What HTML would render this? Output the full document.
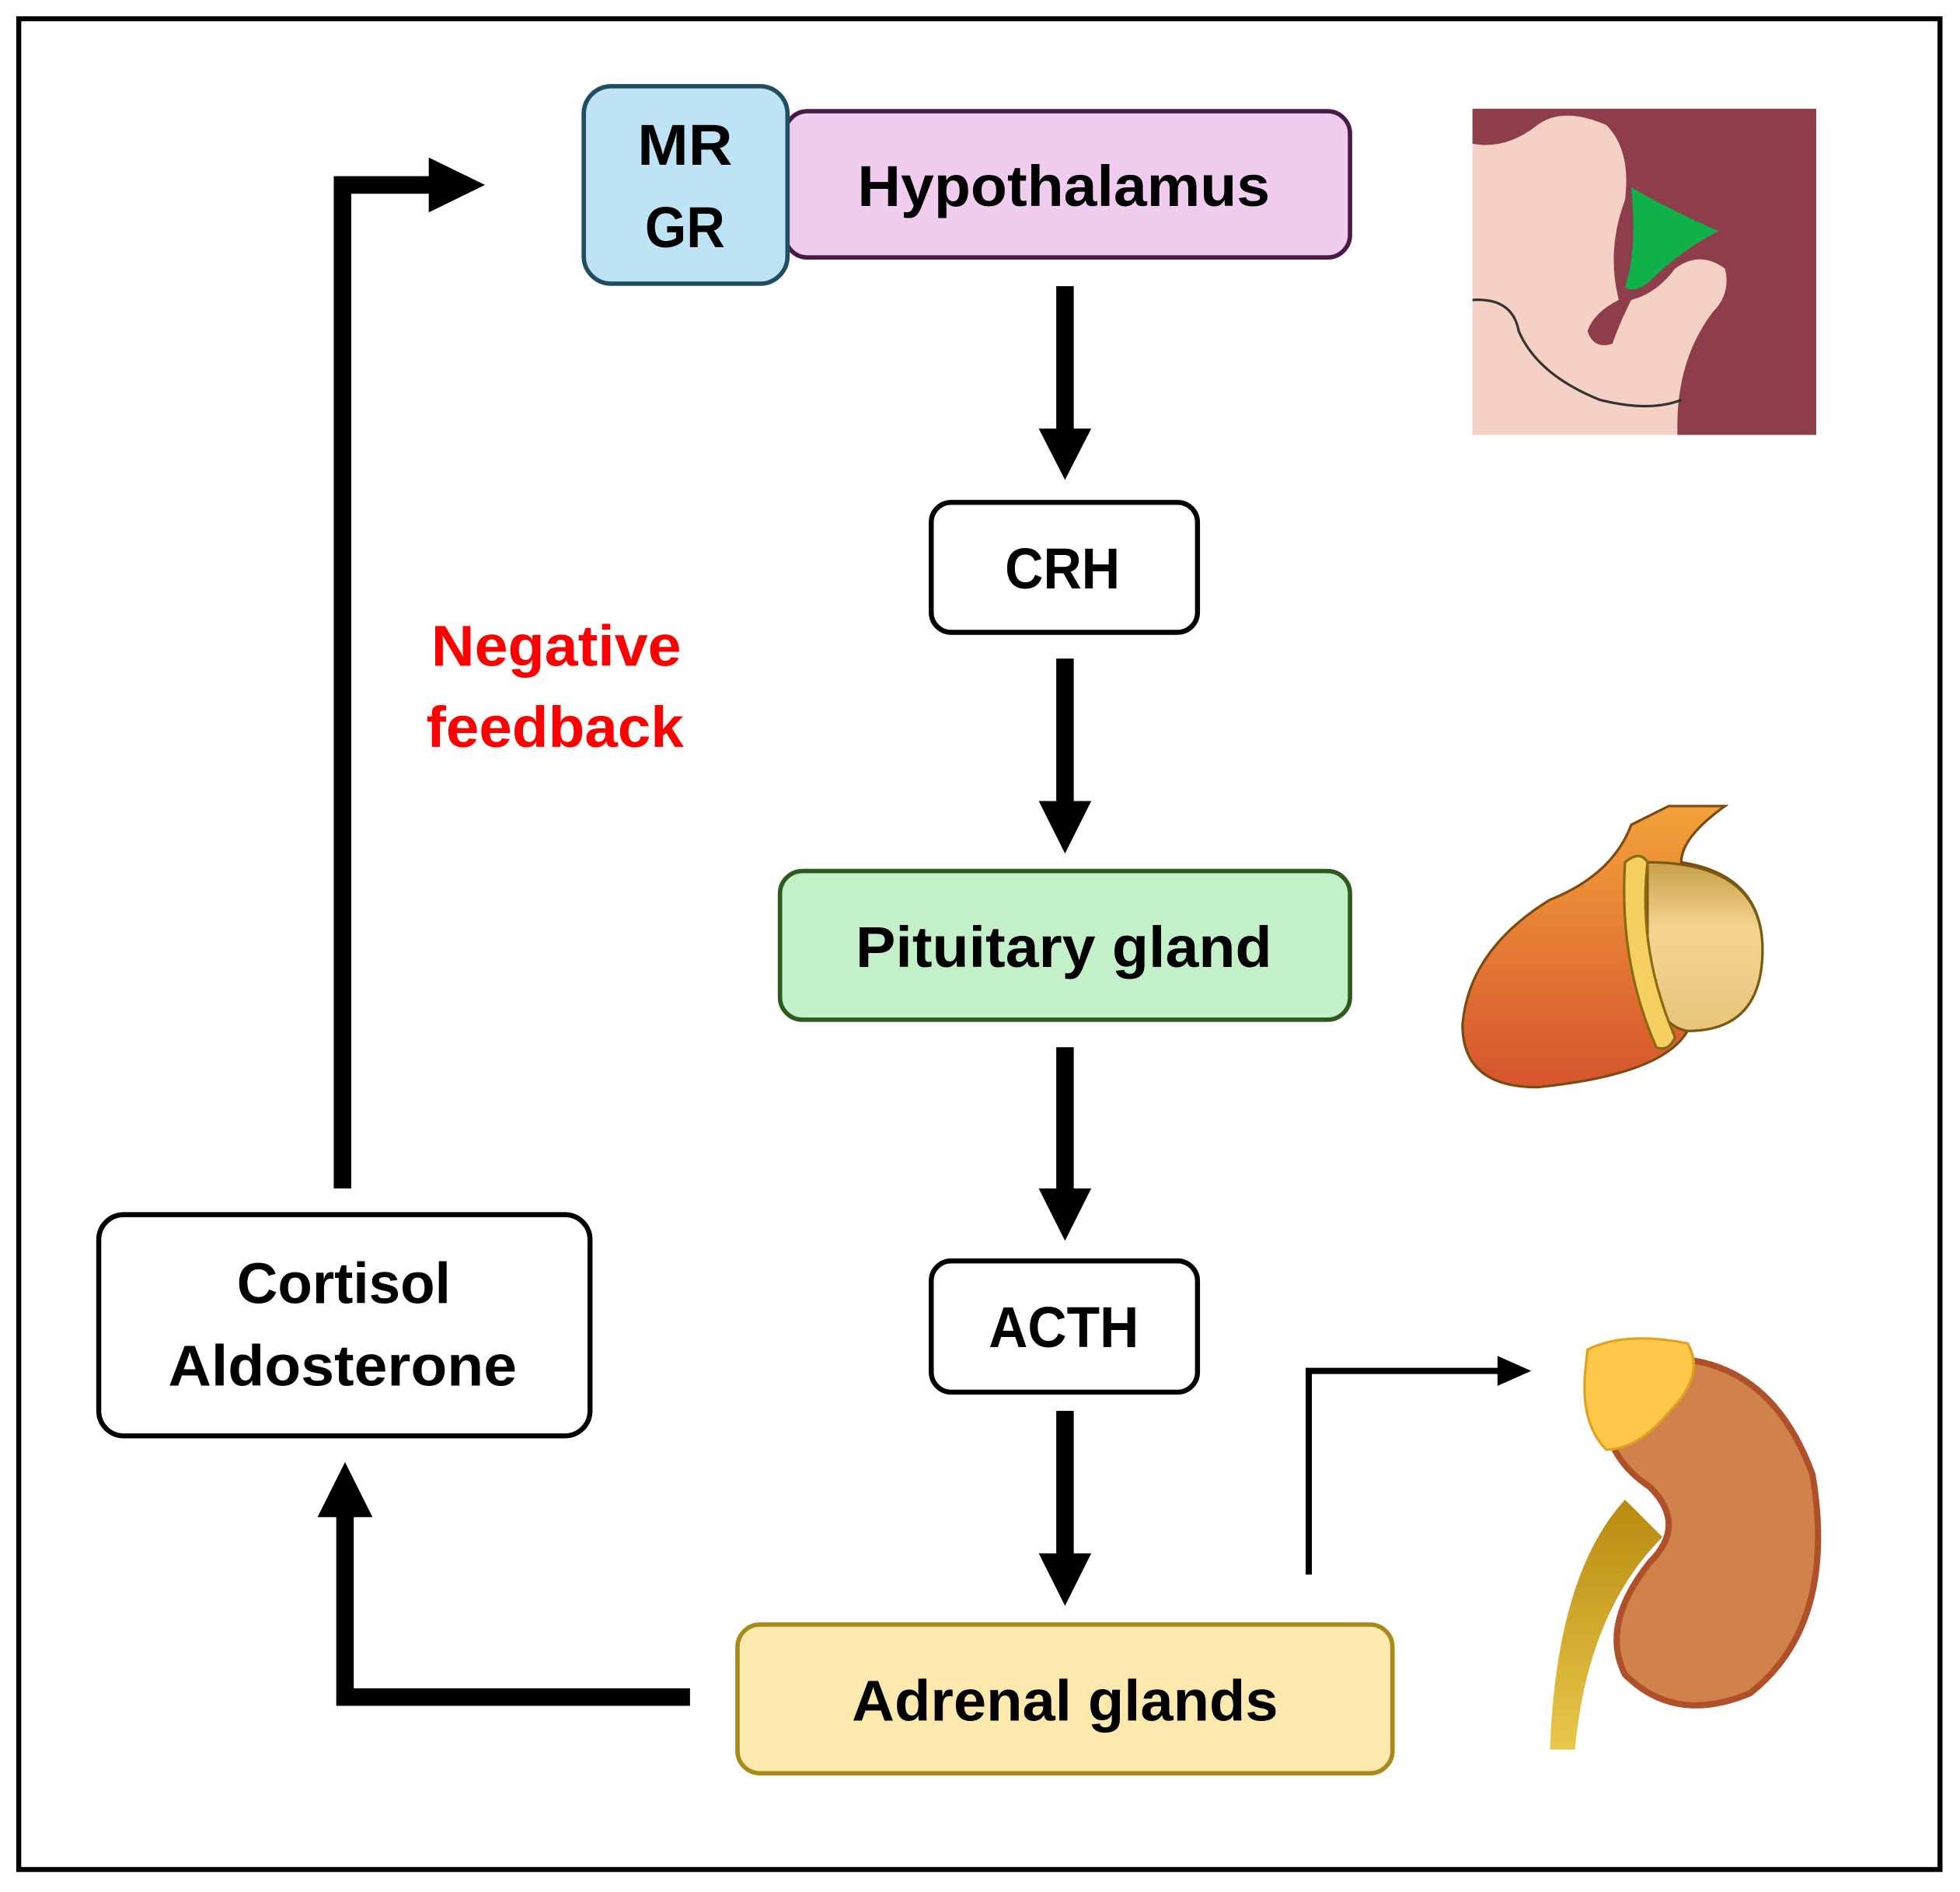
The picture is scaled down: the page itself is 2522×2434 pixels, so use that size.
<!DOCTYPE html>
<html><head><meta charset="utf-8"><style>
html,body{margin:0;padding:0;background:#fff}
svg{display:block}
text{font-family:"Liberation Sans",sans-serif;font-weight:bold;text-anchor:middle;dominant-baseline:central}
</style></head><body>
<svg width="2522" height="2434" viewBox="0 0 1568 1514" preserveAspectRatio="none" xmlns="http://www.w3.org/2000/svg">
<rect x="0" y="0" width="1568" height="1514" fill="#fff"/>
<rect x="15" y="15" width="1537" height="1481" fill="none" stroke="#000" stroke-width="4"/>

<rect x="628" y="89" width="452" height="117" rx="18" fill="#f0cdee" stroke="#4a1a48" stroke-width="3.5"/>
<text x="851" y="149" font-size="46" textLength="330" lengthAdjust="spacingAndGlyphs">Hypothalamus</text>
<rect x="467" y="69" width="163" height="158" rx="22" fill="#bde3f5" stroke="#1f4e63" stroke-width="3.5"/>
<text x="548" y="116" font-size="46" textLength="76" lengthAdjust="spacingAndGlyphs">MR</text>
<text x="548" y="182" font-size="46" textLength="64" lengthAdjust="spacingAndGlyphs">GR</text>

<rect x="745" y="402" width="213" height="104" rx="16" fill="#fff" stroke="#000" stroke-width="4"/>
<text x="850" y="455" font-size="46" textLength="92" lengthAdjust="spacingAndGlyphs">CRH</text>

<rect x="624" y="697" width="456" height="119" rx="18" fill="#c3f0c8" stroke="#2d5a1e" stroke-width="3.5"/>
<text x="851" y="758" font-size="46" textLength="333" lengthAdjust="spacingAndGlyphs">Pituitary gland</text>

<rect x="745" y="1009" width="213" height="105" rx="16" fill="#fff" stroke="#000" stroke-width="4"/>
<text x="851" y="1062" font-size="46" textLength="120" lengthAdjust="spacingAndGlyphs">ACTH</text>

<rect x="590" y="1300" width="524" height="119" rx="18" fill="#fde9ae" stroke="#a88a1a" stroke-width="3.5"/>
<text x="852" y="1361" font-size="46" textLength="341" lengthAdjust="spacingAndGlyphs">Adrenal glands</text>

<rect x="79" y="972" width="393" height="177" rx="20" fill="#fff" stroke="#000" stroke-width="4"/>
<text x="275" y="1027" font-size="46" textLength="171" lengthAdjust="spacingAndGlyphs">Cortisol</text>
<text x="274" y="1093" font-size="46" textLength="279" lengthAdjust="spacingAndGlyphs">Aldosterone</text>

<text x="445" y="517" font-size="46" fill="#ff0000" textLength="200" lengthAdjust="spacingAndGlyphs">Negative</text>
<text x="444" y="582" font-size="46" fill="#ff0000" textLength="206" lengthAdjust="spacingAndGlyphs">feedback</text>

<g fill="#000">
<rect x="845" y="229" width="14" height="118"/><polygon points="831,343 873,343 852,384"/>
<rect x="845" y="527" width="14" height="118"/><polygon points="831,641 873,641 852,683"/>
<rect x="845" y="838" width="14" height="117"/><polygon points="831,951 873,951 852,993"/>
<rect x="845" y="1129" width="14" height="118"/><polygon points="831,1243 873,1243 852,1285"/>
</g>

<polyline points="274,951 274,148 347,148" fill="none" stroke="#000" stroke-width="14"/>
<polygon points="343,126 343,170 388,148" fill="#000"/>
<polyline points="552,1358 276,1358 276,1208" fill="none" stroke="#000" stroke-width="14"/>
<polygon points="254,1214 298,1214 276,1170" fill="#000"/>
<polyline points="1047,1260 1047,1097 1202,1097" fill="none" stroke="#000" stroke-width="5"/>
<polygon points="1198,1085 1198,1109 1225,1097" fill="#000"/>

<rect x="1178" y="87" width="275" height="261" fill="#f5d0c5"/>
<path d="M1178,87 L1453,87 L1453,348 L1342,348 Q1340,290 1370,250 Q1385,235 1380,215 Q1360,200 1340,215 Q1325,235 1305,240 Q1295,260 1290,275 Q1275,280 1270,265 Q1275,250 1295,240 Q1285,200 1300,160 Q1305,120 1285,100 Q1250,85 1230,100 Q1205,120 1178,115 Z" fill="#8e3d4a"/>
<path d="M1178,240 Q1210,238 1215,265 Q1230,300 1280,320 Q1320,330 1345,320" fill="none" stroke="#333" stroke-width="2"/>
<path d="M1305,150 Q1340,170 1375,185 Q1345,200 1320,225 Q1308,235 1300,230 Q1310,200 1305,150 Z" fill="#10b04a"/>

<defs>
<linearGradient id="pg" x1="0" y1="0" x2="0" y2="1"><stop offset="0" stop-color="#f2a23a"/><stop offset="1" stop-color="#d6542e"/></linearGradient>
<linearGradient id="pg2" x1="0" y1="0" x2="0" y2="1"><stop offset="0" stop-color="#c9a04a"/><stop offset="0.4" stop-color="#f5d592"/><stop offset="1" stop-color="#e8c47a"/></linearGradient>
<linearGradient id="ur" x1="0" y1="0" x2="0" y2="1"><stop offset="0" stop-color="#b88a10"/><stop offset="1" stop-color="#e8c84a"/></linearGradient>
</defs>
<path d="M1335,645 L1380,645 Q1345,670 1345,690 Q1410,700 1410,760 Q1410,820 1350,825 Q1330,860 1230,870 Q1170,870 1170,820 Q1175,760 1240,720 Q1290,700 1305,660 Z" fill="url(#pg)" stroke="#7a4a10" stroke-width="2"/>
<path d="M1318,690 Q1410,690 1410,760 Q1410,825 1350,825 Q1320,820 1318,760 Z" fill="url(#pg2)" stroke="#7a5a10" stroke-width="2"/>
<path d="M1300,690 Q1312,680 1318,690 Q1310,760 1340,830 Q1335,842 1325,838 Q1295,770 1300,690 Z" fill="#f5d060" stroke="#8a6a10" stroke-width="2"/>

<path d="M1240,1400 Q1245,1260 1300,1200 L1330,1230 Q1270,1290 1260,1400 Z" fill="url(#ur)"/>
<path d="M1300,1090 Q1410,1070 1450,1180 Q1470,1300 1400,1355 Q1340,1380 1300,1340 Q1280,1300 1320,1250 Q1350,1220 1320,1190 Q1290,1170 1285,1140 Q1280,1100 1300,1090 Z" fill="#d0824a" stroke="#b0502a" stroke-width="5"/>
<path d="M1270,1080 Q1300,1065 1350,1075 Q1365,1100 1335,1130 Q1310,1160 1285,1160 Q1265,1140 1268,1100 Z" fill="#ffc84a" stroke="#e0a020" stroke-width="2"/>
</svg>
</body></html>
